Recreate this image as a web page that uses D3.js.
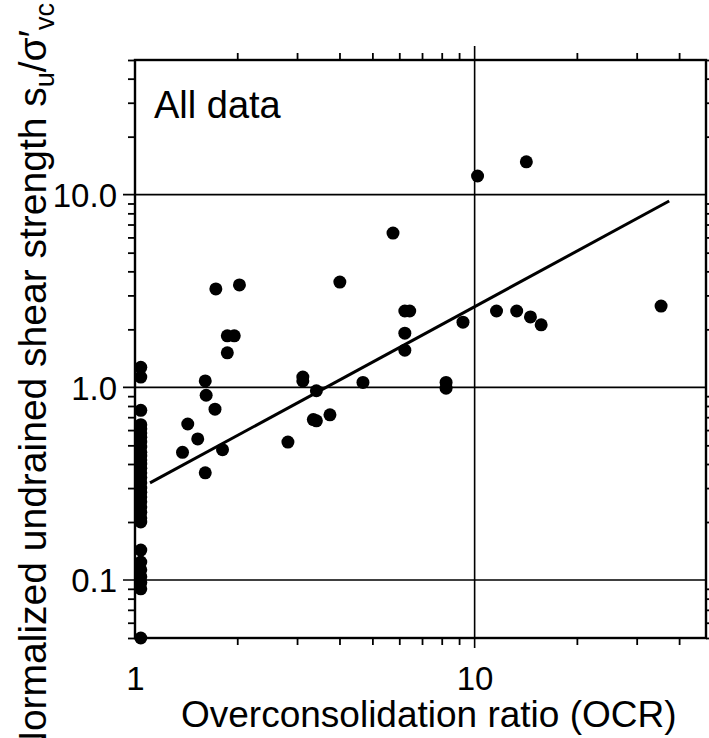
<!DOCTYPE html>
<html>
<head>
<meta charset="utf-8">
<script src="https://cdn.jsdelivr.net/npm/d3@7"></script>
<style>
  html, body { margin: 0; padding: 0; background: #fff; overflow: hidden; }
  svg { display: block; }
  text { font-family: 'Liberation Sans', Arial, sans-serif; fill: #000; }
</style>
</head>
<body>
<div class="container"></div>
<script>
// points sitting on OCR = 1
const ocrOneSu = [1.27, 1.13, 0.76, 0.64, 0.61, 0.58, 0.55, 0.52, 0.49, 0.46, 0.44, 0.42,
  0.4, 0.38, 0.36, 0.34, 0.32, 0.3, 0.285, 0.27, 0.255, 0.24, 0.225, 0.21, 0.2,
  0.143, 0.124, 0.113, 0.104, 0.097, 0.09, 0.05]

// overconsolidated points
const ocrValues = [1.38, 1.43, 1.53, 1.61, 1.61, 1.62, 1.72, 1.73, 1.81, 1.87, 1.87, 1.96,
  2.03, 2.82, 3.12, 3.12, 3.35, 3.42, 3.42, 3.75, 4.01, 4.69, 5.75, 6.23, 6.44, 6.23,
  6.23, 8.24, 8.24, 9.24, 10.2, 11.6, 13.3, 14.2, 14.6, 15.7, 35.4]
const suValues = [0.46, 0.645, 0.54, 0.36, 1.08, 0.91, 0.77, 3.24, 0.475, 1.51, 1.85, 1.85,
  3.4, 0.52, 1.13, 1.08, 0.68, 0.67, 0.96, 0.72, 3.52, 1.06, 6.32, 2.49, 2.49, 1.91,
  1.56, 1.06, 0.99, 2.18, 12.5, 2.49, 2.49, 14.8, 2.32, 2.11, 2.64]

// fitted trend line end points
const fitOcr = [1.107, 37.4]
const fitSu = [0.319, 9.27]

const xMajor = [1, 10]
const yMajor = [0.1, 1, 10]
const xLabels = ['1', '10']
const yLabels = ['0.1', '1.0', '10.0']

const W = 709
const H = 738
const pl = 135, pr = 706, pt = 60, pb = 638

const svg = d3.select('.container').append('svg')
  .attr('width', W).attr('height', H)

const x = d3.scaleLog().domain([1, 48]).range([pl, pr])
const y = d3.scaleLog().domain([0.05, 50]).range([pb, pt])

const xMinor = x.ticks().filter((t) => !xMajor.includes(t))
const yMinor = y.ticks().filter((t) => !yMajor.includes(t))

// grid
svg.append('g').selectAll('line').data(yMajor).enter().append('line')
  .attr('x1', pl - 12).attr('x2', pr)
  .attr('y1', (d) => y(d)).attr('y2', (d) => y(d))
  .attr('stroke', '#000').attr('stroke-width', 1.6)

svg.append('line')
  .attr('x1', x(10)).attr('x2', x(10))
  .attr('y1', pt - 14).attr('y2', pb + 10)
  .attr('stroke', '#000').attr('stroke-width', 1.6)

// minor ticks on all four sides
function minorAxis(axis, tr) {
  const g = svg.append('g').attr('transform', tr).call(axis)
  g.select('.domain').remove()
  g.selectAll('line').attr('stroke-width', 1.8)
  return g
}
minorAxis(d3.axisLeft(y).tickValues(yMinor).tickSize(7).tickFormat(''), `translate(${pl},0)`)
minorAxis(d3.axisRight(y).tickValues(yMinor).tickSize(7).tickFormat(''), `translate(${pr},0)`)
minorAxis(d3.axisTop(x).tickValues(xMinor).tickSize(7).tickFormat(''), `translate(0,${pt})`)
minorAxis(d3.axisBottom(x).tickValues(xMinor).tickSize(7).tickFormat(''), `translate(0,${pb})`)

// frame
svg.append('rect')
  .attr('x', pl).attr('y', pt)
  .attr('width', pr - pl).attr('height', pb - pt)
  .attr('fill', 'none').attr('stroke', '#000').attr('stroke-width', 2.4)

// tick labels
const yAx = svg.append('g').attr('transform', `translate(${pl},0)`)
  .call(d3.axisLeft(y).tickValues(yMajor).tickSize(0).tickPadding(18)
    .tickFormat((d, i) => yLabels[i]))
yAx.select('.domain').remove()
yAx.selectAll('text').attr('font-size', 33).attr('dy', '0.36em')
  .style('font-family', "'Liberation Sans', Arial, sans-serif")

const xAx = svg.append('g').attr('transform', `translate(0,${pb})`)
  .call(d3.axisBottom(x).tickValues(xMajor).tickSize(0).tickPadding(40)
    .tickFormat((d, i) => xLabels[i]))
xAx.select('.domain').remove()
xAx.selectAll('text').attr('font-size', 33).attr('dy', '0.36em')
  .style('font-family', "'Liberation Sans', Arial, sans-serif")

// trend line
svg.append('path')
  .datum(d3.zip(fitOcr, fitSu))
  .attr('d', d3.line().x((d) => x(d[0])).y((d) => y(d[1])))
  .attr('stroke', '#000').attr('stroke-width', 3).attr('fill', 'none')

// points
const pts = ocrOneSu.map((s) => [1.04, s]).concat(d3.zip(ocrValues, suValues))
svg.append('g').selectAll('circle').data(pts).enter().append('circle')
  .attr('cx', (d) => x(d[0])).attr('cy', (d) => y(d[1]))
  .attr('r', 6.5).attr('fill', '#000')

// in-plot label
svg.append('text').attr('x', 154).attr('y', 118)
  .attr('font-size', 38).text('All data')

// axis titles
svg.append('text').attr('x', 181).attr('y', 727)
  .attr('font-size', 37).text('Overconsolidation ratio (OCR)')

// long title runs off the bottom edge, as in the source figure
const yt = svg.append('text')
  .attr('transform', 'translate(46,3) rotate(-90)')
  .attr('text-anchor', 'end').attr('font-size', 39)
yt.append('tspan').text('Normalized undrained shear strength s')
yt.append('tspan').attr('font-size', 27).attr('dy', 8).text('u')
yt.append('tspan').attr('dy', -8).text('/σ′')
yt.append('tspan').attr('font-size', 27).attr('dy', 8).text('vc')
</script>
</body>
</html>
